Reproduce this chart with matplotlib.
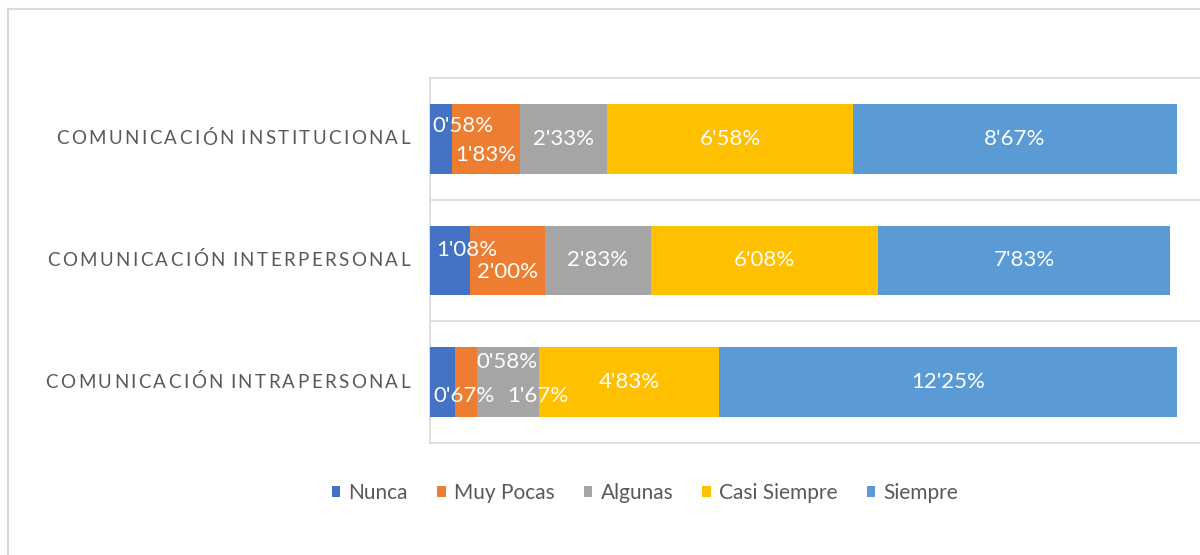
import matplotlib
matplotlib.use("Agg")
import matplotlib.pyplot as plt
from matplotlib.patches import Rectangle
from matplotlib.font_manager import FontProperties
import matplotlib.transforms as mtransforms

plt.rcParams["font.family"] = ["Lato", "DejaVu Sans"]

# bottom-to-top order, as in the source chart
CATEGORIES = [
    "COMUNICACIÓN INTRAPERSONAL",
    "COMUNICACIÓN INTERPERSONAL",
    "COMUNICACIÓN INSTITUCIONAL",
]
SERIES = ["Nunca", "Muy Pocas", "Algunas", "Casi Siempre", "Siempre"]
NUNCA = [0.67, 1.08, 0.58]
MUY_POCAS = [0.58, 2.00, 1.83]
ALGUNAS = [1.67, 2.83, 2.33]
CASI_SIEMPRE = [4.83, 6.08, 6.58]
SIEMPRE = [12.25, 7.83, 8.67]
VALUES = [NUNCA, MUY_POCAS, ALGUNAS, CASI_SIEMPRE, SIEMPRE]

COLORS = ["#4472C4", "#ED7D31", "#A5A5A5", "#FFC000", "#5B9BD5"]
GRID = "#D9D9D9"
TEXT = "#595959"

# nudges (pixels) for crowded data labels: (category, series) -> (dx, dy)
LABEL_NUDGE = {
    (2, 0): (22, 13), (2, 1): (0, -16),
    (1, 0): (17, 11), (1, 1): (0, -11),
    (0, 0): (21, -14), (0, 1): (41, 20), (0, 2): (30, -14),
}


def fmt(v):
    return f"{v:.2f}".replace(".", "'") + "%"


def draw_spaced_label(fig, ax, y, text, prop, spacing_px, right_px):
    # Excel-style letter spacing: draw each character on its own
    renderer = fig.canvas.get_renderer()
    base = ax.get_yaxis_transform()
    offset = -right_px
    for ch in reversed(text):
        w, _h, _d = renderer.get_text_width_height_descent(ch, prop, ismath=False)
        if ch == " ":
            offset -= w
            continue
        tr = mtransforms.offset_copy(base, fig=fig, x=offset, y=0, units="dots")
        ax.text(0, y, ch, transform=tr, ha="right", va="center",
                fontproperties=prop, color=TEXT, clip_on=False)
        offset -= w + spacing_px


def main():
    fig = plt.figure(figsize=(12, 5.55), dpi=100)
    W, H = 1200, 555
    ax = fig.add_axes([430 / W, 1 - 443 / H, 770 / W, (443 - 78) / H])

    y = list(range(len(CATEGORIES)))
    left = [0.0] * len(CATEGORIES)
    handles = []
    for s, (name, vals, col) in enumerate(zip(SERIES, VALUES, COLORS)):
        b = ax.barh(y, vals, left=left, height=0.57, color=col, label=name, zorder=3)
        handles.append(b)
        for c, v in enumerate(vals):
            dx, dy = LABEL_NUDGE.get((c, s), (0, 0))
            ax.annotate(fmt(v), (left[c] + v / 2, c), xytext=(dx, dy),
                        textcoords="offset pixels", ha="center", va="center",
                        color="white", fontsize=16, zorder=4)
        left = [l + v for l, v in zip(left, vals)]

    ax.set_xlim(0, 770 / 37.35)
    ax.set_ylim(-0.5, len(CATEGORIES) - 0.5)
    ax.set_xticks([])
    ax.set_yticks([])
    for yy in [0.5, 1.5]:
        ax.axhline(yy, color=GRID, lw=1.2, zorder=1)
    for side in ["top", "bottom", "left"]:
        ax.spines[side].set_color(GRID)
        ax.spines[side].set_linewidth(1.2)
    ax.spines["right"].set_visible(False)

    prop = FontProperties(family=["Lato", "DejaVu Sans"], size=13.5)
    for c, name in enumerate(CATEGORIES):
        draw_spaced_label(fig, ax, c, name, prop, 2.4, 20)

    fig.legend(handles=handles, labels=SERIES, loc="center", ncol=5,
               bbox_to_anchor=(645 / W, 1 - 493 / H), frameon=False,
               fontsize=15, labelcolor=TEXT, handlelength=0.4, handleheight=0.4,
               handletextpad=0.4, columnspacing=1.4)

    fig.add_artist(Rectangle((7.5 / W, -0.1), 1.0, 1.1 - 8.5 / H,
                             transform=fig.transFigure, fill=False,
                             edgecolor=GRID, lw=1.5))

    fig.savefig("out.png", dpi=100, facecolor="white")
    plt.close(fig)


if __name__ == "__main__":
    main()
